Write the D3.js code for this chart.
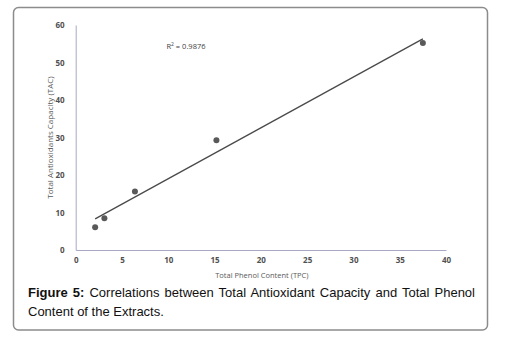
<!DOCTYPE html>
<html>
<head>
<meta charset="utf-8">
<script src="https://cdn.jsdelivr.net/npm/d3@7"></script>
<style>
  body { margin: 0; background: #fff; }
  #wrap { position: relative; width: 510px; height: 342px; }
  #caption {
    position: absolute; left: 28px; top: 284px; width: 447px;
    font-family: "Liberation Sans", Arial, sans-serif; font-size: 13px;
    line-height: 18.5px; color: #111; text-align: justify; text-align-last: left;
  }
</style>
</head>
<body>
<div id="wrap">
  <svg id="chart" width="510" height="342"></svg>
  <div id="caption"><b>Figure 5:</b> Correlations between Total Antioxidant Capacity and Total Phenol Content of the Extracts.</div>
</div>
<script>
// data
var tpc = [2.1, 3.1, 6.4, 15.2, 37.5];
var tac = [6.1, 8.5, 15.6, 29.3, 55.2];
// trendline end points (linear fit, R2 = 0.9876)
var trendX = [2.1, 37.5];
var trendY = [8.3, 56.3];
var xTicks = [0, 5, 10, 15, 20, 25, 30, 35, 40];
var yTicks = [0, 10, 20, 30, 40, 50, 60];

var margin = {top: 25, left: 75.7},
    width = 446 - 75.7,
    height = 250 - 25;

var root = d3.select("#chart");

// frame round figure
root.append("rect")
  .attr("x", 13.5).attr("y", 7.5)
  .attr("width", 474).attr("height", 322.5)
  .attr("rx", 5).attr("ry", 5)
  .attr("fill", "none")
  .attr("stroke", "#8c8c8c")
  .attr("stroke-width", 1.5);

var svg = root.append("g")
  .attr("transform", "translate(" + margin.left + "," + margin.top + ")");

var x = d3.scaleLinear().domain([0, 40]).range([0, width]);
var y = d3.scaleLinear().domain([0, 60]).range([height, 0]);

var font = "'Open Sans', 'Noto Sans', sans-serif";

// X axis
var xAxis = svg.append("g")
  .attr("transform", "translate(0," + height + ")")
  .call(d3.axisBottom(x).tickValues(xTicks).tickSize(0).tickPadding(7));
// Y axis
var yAxis = svg.append("g")
  .call(d3.axisLeft(y).tickValues(yTicks).tickSize(0).tickPadding(11));

[xAxis, yAxis].forEach(function(a) {
  a.select(".domain").attr("stroke", "#a8a8c4").attr("stroke-width", 1);
  a.selectAll("text")
    .attr("font-family", font)
    .attr("font-size", "8px")
    .attr("font-weight", "bold")
    .attr("fill", "#505050");
});

// axis titles
svg.append("text")
  .attr("text-anchor", "middle")
  .attr("x", x(20) + 1)
  .attr("y", height + 28)
  .attr("font-family", font)
  .attr("font-size", "7.5px")
  .attr("fill", "#595959")
  .text("Total Phenol Content (TPC)");

svg.append("text")
  .attr("text-anchor", "middle")
  .attr("transform", "rotate(-90)")
  .attr("x", -y(30))
  .attr("y", -23)
  .attr("font-family", font)
  .attr("font-size", "8px")
  .attr("fill", "#595959")
  .text("Total  Antioxidants Capacity (TAC)");

// trendline
svg.append("line")
  .attr("x1", x(trendX[0])).attr("y1", y(trendY[0]))
  .attr("x2", x(trendX[1])).attr("y2", y(trendY[1]))
  .attr("stroke", "#4a4a4a")
  .attr("stroke-width", 1.3);

// points
svg.selectAll("circle")
  .data(tpc)
  .enter()
  .append("circle")
    .attr("cx", function(d) { return x(d); })
    .attr("cy", function(d, i) { return y(tac[i]); })
    .attr("r", 3)
    .attr("fill", "#595959");

// R squared label
var r2 = svg.append("text")
  .attr("x", x(9.8))
  .attr("y", y(53.6))
  .attr("font-family", font)
  .attr("font-size", "7.5px")
  .attr("fill", "#404040");
r2.append("tspan").text("R");
r2.append("tspan").attr("dy", -3).attr("font-size", "5px").text("2");
r2.append("tspan").attr("dy", 3).text(" = 0.9876");
</script>
</body>
</html>
